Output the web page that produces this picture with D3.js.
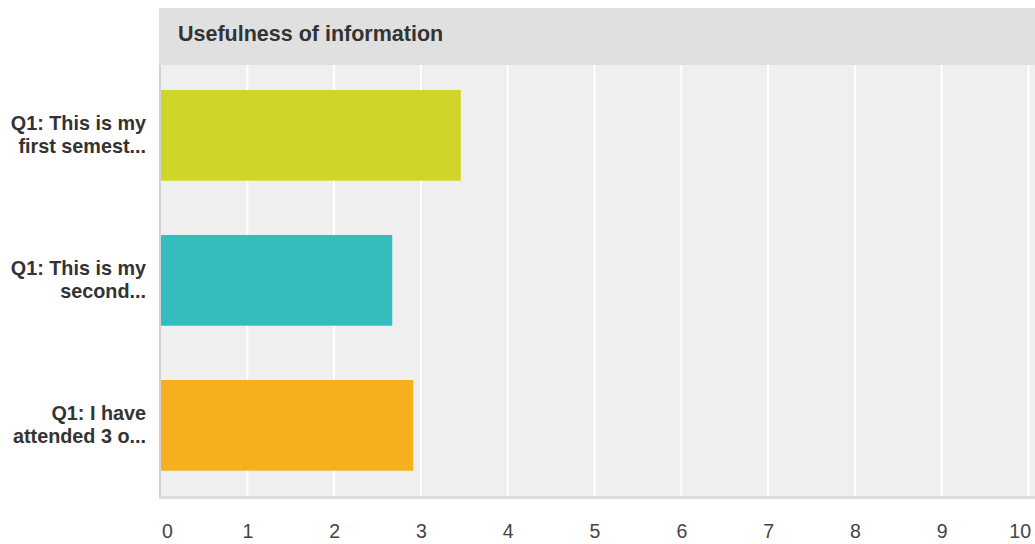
<!DOCTYPE html>
<html>
<head>
<meta charset="utf-8">
<script src="https://cdn.jsdelivr.net/npm/d3@7"></script>
<style>
  html, body { margin: 0; padding: 0; background: #fff; }
  svg { display: block; font-family: "Liberation Sans", Arial, Helvetica, sans-serif; }
</style>
</head>
<body>
<svg id="chart" width="1035" height="544"></svg>
<script>
const title = "Usefulness of information";
const categories = [
  ["Q1: This is my", "first semest..."],
  ["Q1: This is my", "second..."],
  ["Q1: I have", "attended 3 o..."]
];
const values = [3.46, 2.67, 2.91];
const colors = ["#d0d52a", "#33bdbf", "#f6b01f"];
const tickValues = [0, 1, 2, 3, 4, 5, 6, 7, 8, 9, 10];

const svg = d3.select("#chart");
const W = 1035;
const plotLeft = 160.5;
const headerTop = 8, headerBottom = 65;
const plotTop = 65, plotBottom = 496;

const x = d3.scaleLinear().domain([0, 10]).range([plotLeft, 1028.5]);
const y = d3.scaleBand().domain(d3.range(categories.length))
  .range([plotTop, 495.7]).paddingInner(0.3745).paddingOuter(0.1724);

// header band
svg.append("rect").attr("x", 159).attr("y", headerTop)
  .attr("width", W - 159).attr("height", headerBottom - headerTop).attr("fill", "#e0e0e0");
svg.append("text").attr("x", 178).attr("y", 41)
  .attr("font-size", 21.5).attr("font-weight", "bold").attr("fill", "#333")
  .text(title);

// plot background
svg.append("rect").attr("x", 159).attr("y", plotTop)
  .attr("width", W - 159).attr("height", plotBottom - plotTop).attr("fill", "#efefef");

// gridlines
svg.append("g").selectAll("line").data(tickValues.slice(1))
  .join("line")
  .attr("x1", d => x(d)).attr("x2", d => x(d))
  .attr("y1", plotTop).attr("y2", plotBottom)
  .attr("stroke", "#ffffff").attr("stroke-width", 2);

// left axis line
svg.append("line").attr("x1", 160).attr("x2", 160)
  .attr("y1", plotTop).attr("y2", plotBottom + 2)
  .attr("stroke", "#d2d2d2").attr("stroke-width", 2);

// bars
svg.append("g").selectAll("rect").data(values)
  .join("rect")
  .attr("x", x(0) + 0.5)
  .attr("y", (d, i) => y(i))
  .attr("width", d => x(d) - x(0) - 0.5)
  .attr("height", y.bandwidth())
  .attr("fill", (d, i) => colors[i]);

// bottom axis line
svg.append("rect").attr("x", 159).attr("y", plotBottom)
  .attr("width", W - 159).attr("height", 3).attr("fill", "#dcdcdc");

// x axis tick labels
const xAxis = d3.axisBottom(x).tickValues(tickValues).tickSize(0).tickPadding(0)
  .tickFormat(d3.format("d"));
const gx = svg.append("g").attr("transform", `translate(0, ${plotBottom})`).call(xAxis);
gx.select(".domain").remove();
gx.selectAll("text")
  .attr("y", 42).attr("dy", null)
  .attr("font-size", 19.5).attr("font-family", "Liberation Sans, Arial, sans-serif")
  .attr("fill", "#444");
gx.selectAll(".tick").filter(d => d === 0).select("text").attr("text-anchor", "start").attr("x", 1);
gx.selectAll(".tick").filter(d => d === 10).select("text").attr("text-anchor", "end").attr("x", 2);

// category labels
const lab = svg.append("g").selectAll("text").data(categories)
  .join("text")
  .attr("text-anchor", "end")
  .attr("font-size", 19.8).attr("font-weight", "bold").attr("fill", "#333");
lab.each(function(lines, i) {
  const cy = y(i) + y.bandwidth() / 2;
  d3.select(this).selectAll("tspan").data(lines).join("tspan")
    .attr("x", 146)
    .attr("y", (l, j) => cy - 5.5 + j * 23)
    .text(l => l);
});
</script>
</body>
</html>
